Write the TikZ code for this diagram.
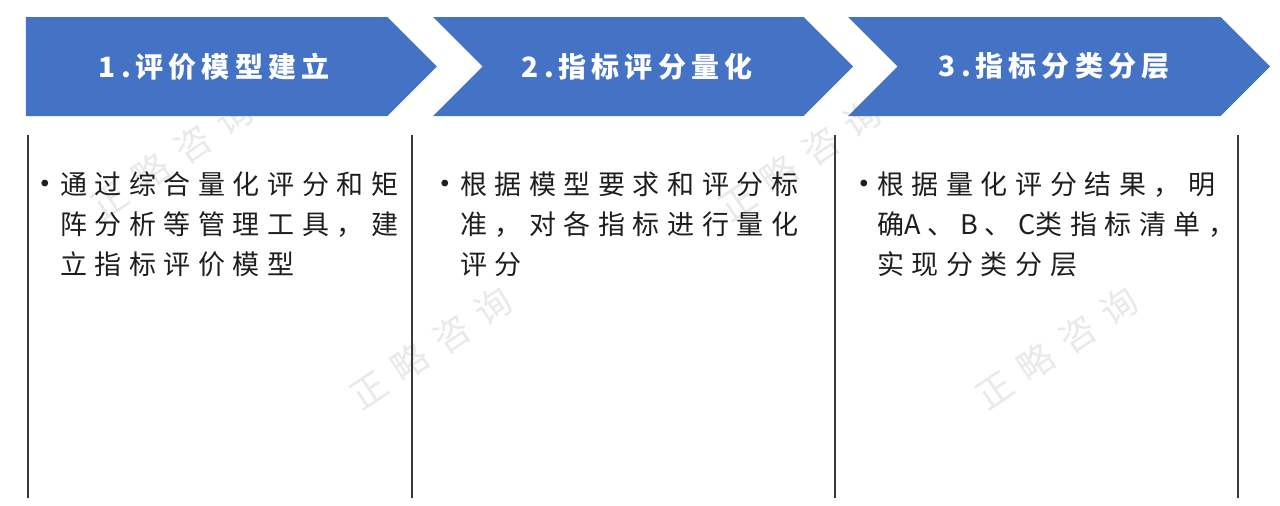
\documentclass[tikz,border=0pt]{standalone}
\usepackage{fontspec}
\usetikzlibrary{positioning, shapes.symbols}

\newfontfamily\headfamily[LetterSpace=18]{Noto Sans CJK SC}
\newfontfamily\bodyfamily[LetterSpace=28]{Noto Sans CJK SC}
\newfontfamily\wmfamily[LetterSpace=39]{Noto Sans CJK SC}
\newcommand{\bulletdot}{\hspace{-5pt}\raisebox{3pt}{\normalfont\fontsize{30}{30}\selectfont\textbullet}}
\newcommand{\tightlatin}[1]{{\addfontfeature{LetterSpace=24}#1}}

\definecolor{chevblue}{HTML}{4472C4}
\definecolor{rulegray}{HTML}{3A3A3A}
\definecolor{bodyblack}{HTML}{1E1E1E}
\definecolor{wmgray}{HTML}{E9E9E9}

\begin{document}
\begin{tikzpicture}[x=1pt, y=-1pt, node distance=412pt,
    chev/.style={shape=signal, signal to=east, signal from=west, signal pointer angle=90,
                 fill=chevblue, inner sep=0pt, outer sep=0pt, minimum height=99pt, minimum width=420pt},
    headtext/.style={text=white, font=\headfamily\bfseries\fontsize{28}{30}\selectfont},
    body/.style={anchor=north west, inner sep=0pt, text=bodyblack,
                 font=\bodyfamily\fontsize{27}{40}\selectfont},
    wmark/.style={rotate=34, text=wmgray, font=\wmfamily\fontsize{36}{36}\selectfont}]

    \useasboundingbox (0,0) rectangle (1280,506);

    % watermark
    \node[wmark] (w1) at (172,158) {正略咨询};
    \node[wmark] (w2) at (431,348) {正略咨询};
    \node[wmark] (w3) at (800,160) {正略咨询};
    \node[wmark] (w4) at (1057,348) {正略咨询};

    % Define the steps (chevrons)
    \node[chev, signal from=nowhere, minimum width=411pt,
          label={[headtext, xshift=7.5pt]center:1.评价模型建立}] (h1) at (206.5,66.5) {};
    \node[chev, right of=h1, node distance=436.5pt,
          label={[headtext, xshift=-6pt]center:2.指标评分量化}] (h2) {};
    \node[chev, right of=h2, node distance=416pt, minimum width=422pt,
          label={[headtext, xshift=-5pt]center:3.指标分类分层}] (h3) {};

    % column rules
    \draw[rulegray, line width=1.3pt]
        (28,135) -- (28,498)
        (412,135) -- (412,498)
        (835,135) -- (835,498)
        (1238,135) -- (1238,498);

    % Define the texts
    \node[body] (t1) at (39,166) {\begin{tabular}{@{}l@{}l@{}}
        \makebox[21pt][l]{\bulletdot} & 通过综合量化评分和矩\\
                                      & 阵分析等管理工具，建\\
                                      & 立指标评价模型
        \end{tabular}};
    \node[body] (t2) at (439,166) {\begin{tabular}{@{}l@{}l@{}}
        \makebox[21pt][l]{\bulletdot} & 根据模型要求和评分标\\
                                      & 准，对各指标进行量化\\
                                      & 评分
        \end{tabular}};
    \node[body] (t3) at (858,166) {\begin{tabular}{@{}l@{}l@{}}
        \makebox[19pt][l]{\bulletdot} & 根据量化评分结果，明\\
                                      & 确\tightlatin{A、B、C}类指标清单，\\
                                      & 实现分类分层
        \end{tabular}};
\end{tikzpicture}
\end{document}
